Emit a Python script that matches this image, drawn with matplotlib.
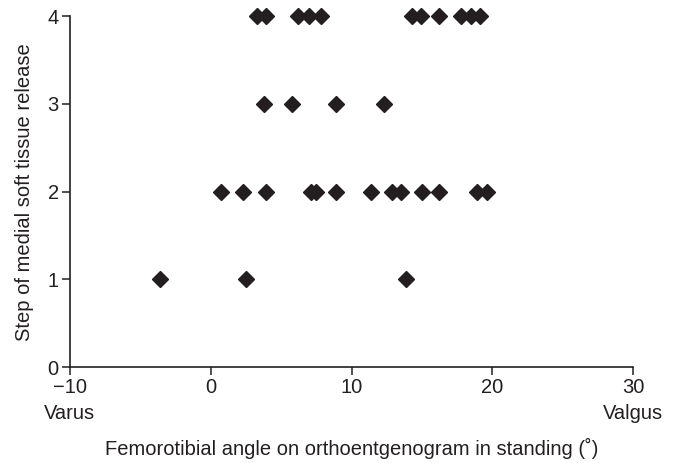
import numpy as np
import matplotlib as mpl
mpl.use('Agg')
import matplotlib.pyplot as plt
import matplotlib.transforms as mtransforms

plt.rcParams['font.family'] = ['Liberation Sans', 'DejaVu Sans']

# femorotibial angle (deg) for each step of medial release
angle_step1 = [-3.6, 2.5, 13.9]
angle_step2 = [0.7, 2.3, 3.9, 7.1, 7.5, 8.9, 11.4, 12.9, 13.5, 15.0, 16.2, 18.9, 19.6]
angle_step3 = [3.8, 5.8, 8.9, 12.3]
angle_step4 = [3.3, 3.9, 6.2, 7.0, 7.8, 14.3, 14.9, 16.2, 17.8, 18.5, 19.1]
steps = [1, 2, 3, 4]

xticks = [-10, 0, 10, 20, 30]
yticks = [0, 1, 2, 3, 4]

col = '#231f20'
fs = 14.5

fig = plt.figure(figsize=(6.78, 4.63), dpi=100)
ax = fig.add_axes([0.103, 0.207, 0.831, 0.758])

for s, xs in zip(steps, [angle_step1, angle_step2, angle_step3, angle_step4]):
    ax.plot(xs, [s]*len(xs), linestyle='none', marker='D', markersize=8.2,
            color=col, clip_on=False)

ax.set_xlim(-10, 30)
ax.set_ylim(0, 4)
ax.set_xticks(xticks)
ax.set_yticks(yticks)
ax.set_xticklabels(['\u221210', '0', '10', '20', '30'])
for sp in ['top', 'right']:
    ax.spines[sp].set_visible(False)
for sp in ['left', 'bottom']:
    ax.spines[sp].set_linewidth(1.2)
    ax.spines[sp].set_color(col)
ax.tick_params(direction='out', length=6, width=1.1, color=col,
               labelsize=fs, labelcolor=col, pad=2)

trans = mtransforms.blended_transform_factory(ax.transData, ax.transAxes)
ax.text(-10, -0.105, 'Varus', transform=trans, ha='center', va='top',
        fontsize=fs, color=col)
ax.text(30, -0.105, 'Valgus', transform=trans, ha='center', va='top',
        fontsize=fs, color=col)

ax.set_xlabel('Femorotibial angle on orthoentgenogram in standing (\u02da)',
              fontsize=fs, color=col, labelpad=29)
ax.set_ylabel('Step of medial soft tissue release', fontsize=fs, color=col,
              labelpad=10)

plt.savefig('out.png', dpi=100)
